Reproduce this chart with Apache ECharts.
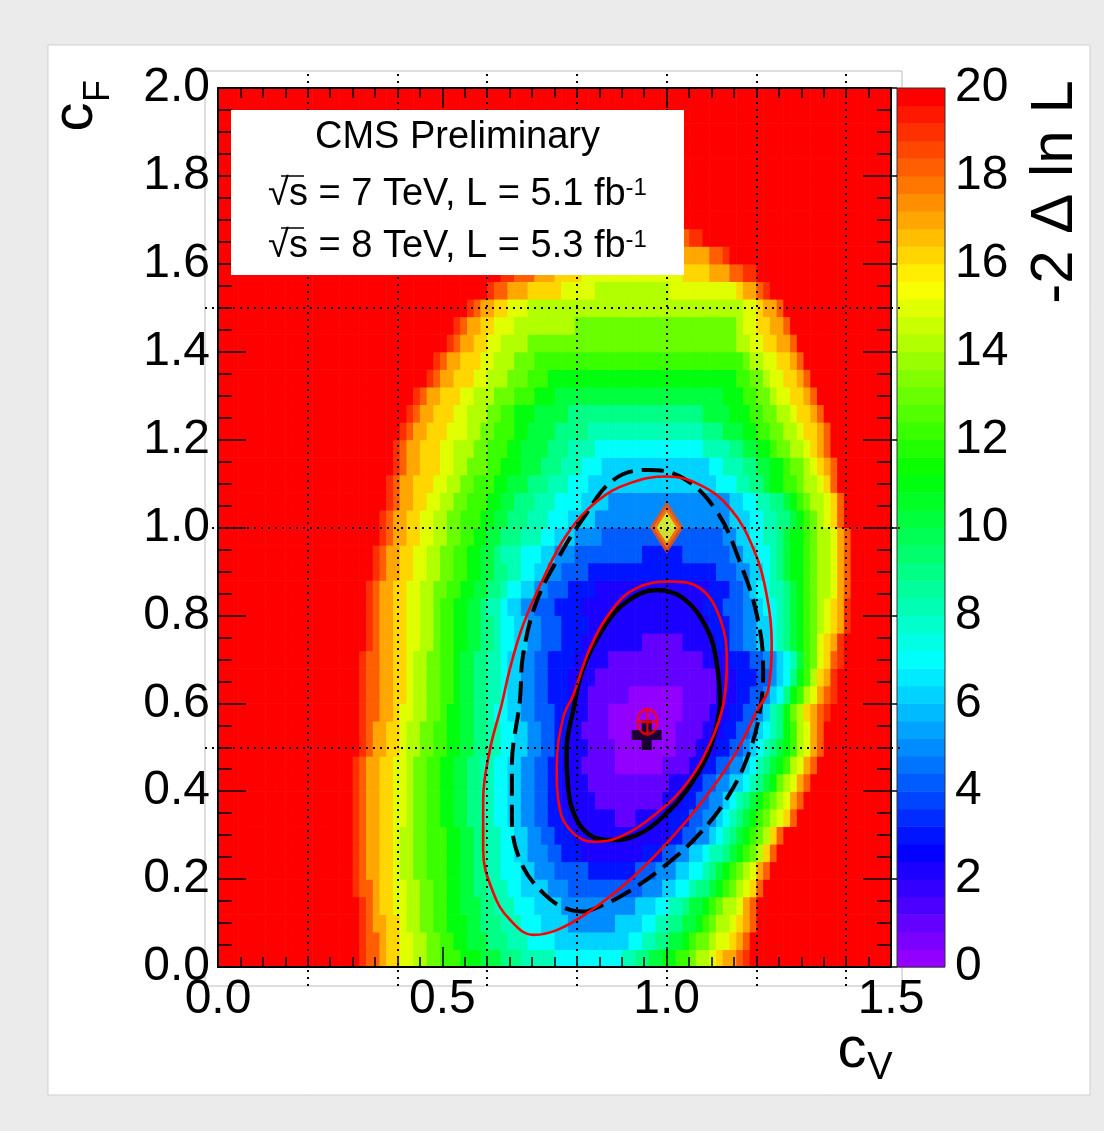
<!DOCTYPE html>
<html>
<head>
<meta charset="utf-8">
<script src="https://cdn.jsdelivr.net/npm/echarts@6/dist/echarts.min.js"></script>
<style>
  html, body { margin: 0; padding: 0; background: #ebebeb; }
  #chart { width: 1104px; height: 1131px; }
</style>
</head>
<body>
<div id="chart"></div>
<script>
// -2 Δ ln L map: 100 columns in cV (0.015 wide), 50 rows in cF (0.04 high)
const cvStep = 0.015;
const cfStep = 0.04;
const nCols = 100;
const zMax = 20;

// first non-saturated column of each row (row 0 = bottom)
const rowStart = [21, 21, 21, 21, 20, 20, 20, 20, 20, 20, 20, 20, 21, 21, 21, 21, 21, 21, 22, 22,
                  22, 22, 23, 23, 24, 24, 25, 25, 26, 26, 27, 28, 29, 31, 32, 34, 35, 37, 40, 42,
                  46, 52, 0, 0, 0, 0, 0, 0, 0, 0];
// one char per cell: 0-9 -> 0..9, A-J -> 10..19 ; cells outside the string are >= 20
const rowCells = [
  'JIIHGGFFEE DDCCCBBBAA A999888887 7777777778 899AABBCCD EEFGHHIJ',
  'JIIHGGFFEE DDCCBBAAA9 9988877776 6666666666 778899AABC DDEFFGHI',
  'JIHHGGFEED DCCBBBAA99 9888777666 6555555566 66778899AA BCDEEFGHI',
  'JIHGGFFEED DCCBBAAA99 8887776666 5555555555 566677889A ABCDEEFHI',
  'JIIHGGFFEE DDCCBBAA99 8887766665 5544444444 4445556677 899ABCDEFGI',
  'JIHHGGFEED DCCCBBAA99 8877766555 4444433333 3344455566 7789ABCDEFHI',
  'JIHHGGFEED DCCCBBAA99 8877665554 4333222222 2223334455 667889ABCDEGI',
  'JIHHGGFEED DCCCBBAA99 8877665544 3332222222 2222222334 4556789ABCDEGI',
  'JIHHGGFFED DCCBBAA998 8776655443 3322222221 1122222333 44556789ABCDEFGI',
  'JIHHGGFFED DCCBBAA998 8776655443 3222221111 1111112223 344556789ABCDEFHI',
  'JIHHGGFFED DCCBBAA998 8776655443 3222211111 1111111222 33445566789ABDEFHI',
  'JIHHGGFFED DCCBBAA998 8776655443 3222111110 0000001111 223344556789ABCEFHI',
  'JIHHGGFEED DCCBBAA998 8776655443 3222111100 0000000111 222334456789ABCEFHI',
  'JIHHGGFEED DCCBBAA998 8776655443 3221111000 0000000111 1222334456789BCEFHI',
  'JIIHHGFFEE DDCBBAA998 7766554443 3322111000 0000000011 1122233445689BDEGHIJ',
  'JIIHHGGFEE DDCCBAA998 8766554433 3222111111 0000000011 11122233445679BCEFHIJ',
  'JIIHHGGFEE DDCCBAA998 8766554433 3222211111 1111111111 111222333445679BCEGHJ',
  'JIIHHGGFEE DDCCBAA998 8766554433 3322222111 1111111111 122223334455678ACDFGIJ',
  'JIHHGGFFEE DCCBBAA998 7766554443 3322222222 2111111222 2233445566789ABCDFGHJ',
  'JIHHGGFFEE DCCBBAA998 7766554443 3332222222 2222222222 2333445566789ABCDEFGHJ',
  'JIHHGGFFEE DCCBBAA988 7665544433 3322222222 2222222222 3334445567789ABCDEFGHJ',
  'JIHHGGFFEE DDCCBBAA99 8776655444 3333222222 2222222222 2333445677889ABCDEEFHI',
  'JIHHGGFFEE DDCCBBAA99 8877665544 4433333333 3333333333 34445566789ABBCDEEFHI',
  'JIHHGGFFEE DDCCBBAA98 8877766555 4444444444 3333334444 44455667789ABBCDEEFHI',
  'JIHHGGFFEE DDCCBBAA99 9888776665 5554444444 4444444444 4556677889ABBCDEEFHI',
  'JIHHGGFFEE DDCCCBBAA9 9988877766 6655555555 5555555555 55666778899ABCDEFGI',
  'JIHHGGFFEE DDCCCBBAA9 9988877776 6665555555 5555555555 566778899ABCDEEFGI',
  'JIHHGGGFFE EDDCCCBBAA A999888777 6666666666 6666666667 778899ABBCCDEEFGI',
  'JIHHGGGFFE EDDDCCBBBA AA99988877 7666666666 6666666778 8899AABBCDDEFGHI',
  'JIHHGGGFFE EEDDCCCBBA AAA9998888 7777777777 7777778888 99AABBCDDEEFGHI',
  'JIHHGGGFFF EEDDCCCBBA AAA9999988 8888888888 88888999AA ABBCCDDEEFGGHI',
  'JIHHGGGFFE EEDDCCBBBA AAAA999999 9999999999 9999AAAABB BCCDDEEFGGHI',
  'JIHHGGGFFE EEDDDCCCBB BAAAAAAAAA AAAAAAAAAA AAAAAABBBC CDDEFFGGHI',
  'JIHHGGGFFE EEDDDCCCBB BBBBBBBBBB BBBBBBBBBB BBBBBBCCDD EFFGGHI',
  'JIHHGGGFFE EEDDDCCCCC CCCCCCCCCC CCCCCCCCCC CCCCCCDEEF FGGHI',
  'JIHHGGFFEE EEDDDDDDDD DDDDDDDDDD DDDDDDDDDD DDDEEFFGGH HI',
  'JIHHGGFFFE EEEEEEEEDD DDDDDDDDDD DDDDDDDDDD DDEFFGGHHI',
  'JIHHGGFFFE EEEEEEEEEE EEEEEEEEEE EEEEEEEEEE EFFGHHI',
  'JIIHHHGGGG GFFFFFEEEE EEEEEEEFFF FFFFFFFGHH IJ',
  'JJIIIHHHGG GGFFFFFFFF FFFFFFFGGG GHHHIIJJ',
  'JIIIHHHHHH HHHHHHHHHH HHHHHHHIIJ',
  'IIIIIIIIII IIIIIIIIJJ',
  '', '', '', '', '', '', '', ''
];

// contours [cV, cF]
const blackInner = [[1.119,0.596],[1.111,0.547],[1.089,0.478],[1.045,0.403],[0.992,0.342],[0.933,0.300],
  [0.874,0.289],[0.836,0.296],[0.800,0.334],[0.781,0.403],[0.777,0.494],[0.792,0.585],[0.814,0.680],
  [0.859,0.771],[0.911,0.831],[0.978,0.858],[1.037,0.839],[1.089,0.771],[1.111,0.695],[1.119,0.596]];
// dashed one starts where the red outer line crosses it
const blackOuter = [[0.822,0.126],[0.785,0.130],[0.725,0.168],[0.673,0.243],[0.655,0.342],[0.655,0.456],
  [0.673,0.608],[0.680,0.710],[0.710,0.831],[0.762,0.937],[0.814,1.021],[0.881,1.108],[0.959,1.131],
  [1.037,1.112],[1.112,1.036],[1.163,0.922],[1.201,0.801],[1.215,0.680],[1.209,0.590],[1.186,0.494],
  [1.141,0.395],[1.074,0.304],[0.993,0.228],[0.896,0.160],[0.822,0.126]];
const redInner = [[1.134,0.695],[1.126,0.596],[1.097,0.509],[1.045,0.418],[0.978,0.350],[0.896,0.296],
  [0.836,0.285],[0.792,0.304],[0.762,0.357],[0.755,0.456],[0.770,0.570],[0.792,0.619],[0.829,0.725],
  [0.881,0.816],[0.933,0.862],[1.007,0.877],[1.074,0.862],[1.119,0.793],[1.134,0.695]];
const redOuter = [[1.234,0.740],[1.227,0.634],[1.205,0.590],[1.149,0.478],[1.082,0.380],[1.007,0.289],
  [0.918,0.198],[0.822,0.122],[0.755,0.084],[0.703,0.073],[0.651,0.107],[0.614,0.168],[0.591,0.266],
  [0.591,0.380],[0.606,0.494],[0.632,0.596],[0.651,0.680],[0.680,0.778],[0.725,0.884],[0.777,0.983],
  [0.844,1.059],[0.918,1.101],[1.000,1.116],[1.074,1.097],[1.141,1.044],[1.193,0.953],[1.223,0.846],
  [1.234,0.740]];

const bestFitBlack = [0.9555, 0.528];
const bestFitRed = [0.957, 0.558];
const smPoint = [1.0, 1.0];

// dotted reference lines
const gridCv = [0.2, 0.4, 0.6, 0.8, 1.0, 1.2, 1.4];
const gridCf = [0.5, 1.0, 1.5];

// ROOT "pretty" palette, 50 colours violet -> red
function hueColor(h) {
  const f = n => {
    const k = (n + h / 30) % 12;
    return Math.round((0.5 - 0.5 * Math.max(-1, Math.min(k - 3, 9 - k, 1))) * 255);
  };
  return 'rgb(' + f(0) + ',' + f(8) + ',' + f(4) + ')';
}
const palette = [];
for (let i = 0; i < 49; i++) palette.push(hueColor(280 - (i + 1) * 5.6));
palette.push('#ff0000');
const bandW = zMax / palette.length;
function band(v) { return Math.max(0, Math.min(49, Math.floor(v / bandW + 1e-6))); }

const cells = [];
rowCells.forEach((txt, r) => {
  const s = txt.replace(/ /g, '');
  for (let c = 0; c < nCols; c++) {
    const k = c - rowStart[r];
    const v = (k >= 0 && k < s.length) ? parseInt(s[k], 36) : zMax;
    cells.push([c * cvStep, r * cfStep, v]);
  }
});

// run a closed solid line a little past its start so the smoothing has no corner there
const wrap = pts => pts.concat(pts.slice(1, 3));

const font = '"Liberation Sans", Arial, Helvetica, sans-serif';
const tick = { color: '#000', width: 1.5 };
const fmt1 = v => v.toFixed(1);

const chart = echarts.init(document.getElementById('chart'));

function txt(x, y, text, size, rot) {
  return {
    type: 'text', z: 8, x: x, y: y, rotation: rot || 0,
    style: { text: text, font: size + 'px ' + font, fill: '#000',
      align: 'center', verticalAlign: 'middle', textAlign: 'center', textVerticalAlign: 'middle' }
  };
}
function supLine(x, y, main) {
  return {
    type: 'text', z: 8, x: x, y: y,
    style: {
      text: '{n|' + main + '}{s|-1}',
      align: 'center', verticalAlign: 'middle', textAlign: 'center', textVerticalAlign: 'middle',
      rich: {
        n: { fontSize: 38, fontFamily: font, fill: '#000', color: '#000' },
        s: { fontSize: 24, fontFamily: font, fill: '#000', color: '#000', verticalAlign: 'top' }
      }
    }
  };
}
function contour(data, color, width, type) {
  return { type: 'line', xAxisIndex: 0, yAxisIndex: 0, z: 3, data: data, smooth: 0.4,
    showSymbol: false, lineStyle: { color: color, width: width, type: type || 'solid', cap: 'butt' } };
}

const option = {
  animation: false,
  textStyle: { fontFamily: font },
  grid: [
    { left: 218, top: 88, width: 673, height: 879, outerBoundsMode: 'none' },
    { left: 897, top: 88, width: 48, height: 879, outerBoundsMode: 'none' },
    { left: 205, top: 71, width: 697, height: 915, show: true, borderColor: '#bdbdbd', borderWidth: 1,
      backgroundColor: 'transparent', outerBoundsMode: 'none' }
  ],
  xAxis: [
    { gridIndex: 0, type: 'value', position: 'bottom', min: 0, max: 1.5, interval: 0.5, z: 6,
      axisLine: { onZero: false, lineStyle: { color: '#000', width: 2 } },
      axisTick: { inside: true, length: 20, lineStyle: tick },
      minorTick: { show: true, splitNumber: 10, length: 10, lineStyle: tick },
      axisLabel: { fontSize: 48, fontFamily: font, color: '#000', margin: 9, formatter: fmt1 },
      splitLine: { show: false } },
    { gridIndex: 0, type: 'value', position: 'top', min: 0, max: 1.5, interval: 0.5, z: 6,
      axisLine: { onZero: false, lineStyle: { color: '#000', width: 2 } },
      axisTick: { inside: true, length: 20, lineStyle: tick },
      minorTick: { show: true, splitNumber: 10, length: 10, lineStyle: tick },
      axisLabel: { show: false }, splitLine: { show: false } },
    { gridIndex: 1, type: 'value', min: 0, max: 1, show: false },
    { gridIndex: 2, type: 'value', min: -0.029, max: 1.5245, show: false }
  ],
  yAxis: [
    { gridIndex: 0, type: 'value', position: 'left', min: 0, max: 2, interval: 0.2, z: 6,
      axisLine: { onZero: false, lineStyle: { color: '#000', width: 2 } },
      axisTick: { inside: true, length: 28, lineStyle: tick },
      minorTick: { show: true, splitNumber: 4, length: 14, lineStyle: tick },
      axisLabel: { fontSize: 48, fontFamily: font, color: '#000', margin: 8, formatter: fmt1 },
      splitLine: { show: false } },
    { gridIndex: 0, type: 'value', position: 'right', min: 0, max: 2, interval: 0.2, z: 6,
      axisLine: { onZero: false, lineStyle: { color: '#000', width: 2 } },
      axisTick: { inside: true, length: 28, lineStyle: tick },
      minorTick: { show: true, splitNumber: 4, length: 14, lineStyle: tick },
      axisLabel: { show: false }, splitLine: { show: false } },
    { gridIndex: 1, type: 'value', position: 'right', min: 0, max: zMax, interval: 2, z: 6,
      axisLine: { show: false },
      axisTick: { inside: true, length: 27, lineStyle: tick },
      axisLabel: { fontSize: 48, fontFamily: font, color: '#000', margin: 10 },
      splitLine: { show: false } },
    { gridIndex: 2, type: 'value', min: -0.0432, max: 2.0387, show: false }
  ],
  series: [
    { type: 'custom', xAxisIndex: 0, yAxisIndex: 0, z: 1, clip: true, progressive: 0,
      data: cells,
      renderItem: (params, api) => {
        const x0 = api.value(0), y0 = api.value(1);
        const p0 = api.coord([x0, y0 + cfStep]);
        const p1 = api.coord([x0 + cvStep, y0]);
        return { type: 'rect',
          shape: { x: p0[0], y: p0[1], width: p1[0] - p0[0] + 0.6, height: p1[1] - p0[1] + 0.6 },
          style: { fill: palette[band(api.value(2))] } };
      } },
    { type: 'custom', xAxisIndex: 2, yAxisIndex: 2, z: 1, progressive: 0,
      data: palette.map((c, i) => [0, i * bandW, i]),
      renderItem: (params, api) => {
        const i = api.value(2);
        const p0 = api.coord([0, (i + 1) * bandW]);
        const p1 = api.coord([1, i * bandW]);
        return { type: 'rect',
          shape: { x: p0[0], y: p0[1], width: p1[0] - p0[0], height: p1[1] - p0[1] + 0.5 },
          style: { fill: palette[i] } };
      } },
    contour(blackOuter, '#000', 4, [22, 9]),
    contour(wrap(blackInner), '#000', 4.5),
    contour(wrap(redOuter), '#ff0000', 2.6),
    contour(wrap(redInner), '#ff0000', 2.6),
    { type: 'scatter', xAxisIndex: 0, yAxisIndex: 0, z: 4, data: [bestFitBlack],
      symbol: 'path://M10 0H20V10H30V20H20V30H10V20H0V10H10Z', symbolSize: 30,
      itemStyle: { color: '#000' } },
    { type: 'scatter', xAxisIndex: 0, yAxisIndex: 0, z: 5, data: [bestFitRed],
      symbol: 'path://M0 -10A10 10 0 1 1 0 10A10 10 0 1 1 0 -10ZM-10 0H10M0 -10V10', symbolSize: [20, 25],
      itemStyle: { color: 'rgba(0,0,0,0)', borderColor: '#ff0000', borderWidth: 2.5 } },
    { type: 'scatter', xAxisIndex: 0, yAxisIndex: 0, z: 4, data: [smPoint],
      symbol: 'diamond', symbolSize: [27, 42],
      itemStyle: { color: '#ffff00', borderColor: '#ff5000', borderWidth: 6 } },
    { type: 'line', xAxisIndex: 3, yAxisIndex: 3, z: 9, data: [],
      markLine: { silent: true, symbol: ['none', 'none'], label: { show: false }, animation: false,
        lineStyle: { color: '#000', type: [2, 5], width: 2 },
        data: gridCv.map(v => ({ xAxis: v })).concat(gridCf.map(v => ({ yAxis: v }))) } }
  ],
  graphic: [
    { type: 'rect', z: -10, shape: { x: 48, y: 45, width: 1042, height: 1050 },
      style: { fill: '#fff', stroke: '#cfcfcf', lineWidth: 1 } },
    { type: 'rect', z: 6, shape: { x: 897, y: 88, width: 48, height: 879 },
      style: { fill: 'none', stroke: '#333', lineWidth: 1 } },
    { type: 'rect', z: 7, shape: { x: 231, y: 110, width: 453, height: 165 }, style: { fill: '#fff' } },
    txt(457.5, 138, 'CMS Preliminary', 38),
    supLine(457.5, 195, '√s = 7 TeV, L = 5.1 fb'),
    supLine(457.5, 247, '√s = 8 TeV, L = 5.3 fb'),
    { type: 'line', z: 8, shape: { x1: 281, y1: 176, x2: 304, y2: 176 }, style: { stroke: '#000', lineWidth: 1.5 } },
    { type: 'line', z: 8, shape: { x1: 281, y1: 228, x2: 304, y2: 228 }, style: { stroke: '#000', lineWidth: 1.5 } },
    txt(852, 1051, 'c', 58),
    txt(880, 1069, 'V', 38),
    txt(76, 117, 'c', 58, Math.PI / 2),
    txt(99, 91, 'F', 36, Math.PI / 2),
    txt(1055, 192, '-2 Δ ln L', 60, Math.PI / 2)
  ]
};

chart.setOption(option);
window.addEventListener('resize', () => chart.resize());
</script>
</body>
</html>
